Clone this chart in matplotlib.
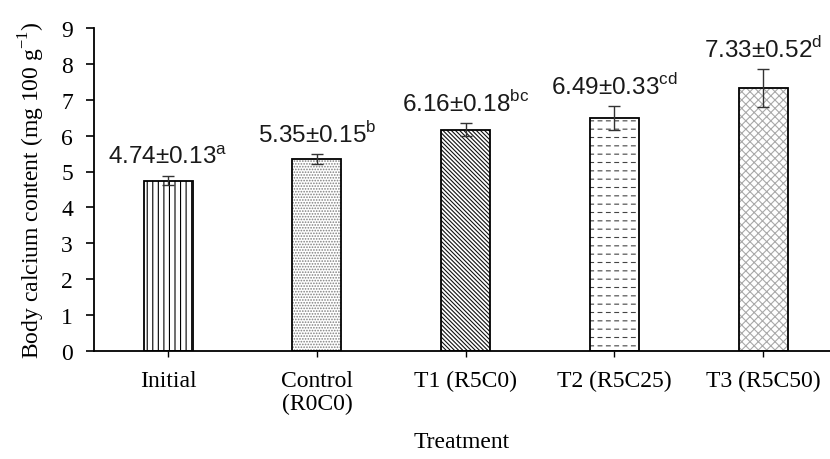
import numpy as np
import matplotlib.pyplot as plt

plt.rcParams['font.family'] = ['Liberation Serif', 'DejaVu Serif']
plt.rcParams['mathtext.fontset'] = 'custom'
plt.rcParams['mathtext.rm'] = 'Liberation Serif'
plt.rcParams['mathtext.sf'] = 'Liberation Sans'
plt.rcParams['hatch.linewidth'] = 0.8

# data
categories = ['Initial', 'Control\n(R0C0)', 'T1 (R5C0)', 'T2 (R5C25)', 'T3 (R5C50)']
means = [4.74, 5.35, 6.16, 6.49, 7.33]
errs = [0.13, 0.15, 0.18, 0.33, 0.52]
letters = ['a', 'b', 'bc', 'cd', 'd']
hatches = ['|||', '......', '\\\\\\\\\\\\\\\\', '--', 'xxxx']
hatch_colors = ['black', '#808080', '#111111', '#444444', '#aaaaaa']

fig = plt.figure(figsize=(8.3, 4.6), dpi=100)
ax = fig.add_axes([0.113, 0.235, 0.887, 0.702])

x = np.arange(len(categories))
for i in range(len(categories)):
    ax.bar(x[i], means[i], width=0.33, color='white', edgecolor=hatch_colors[i],
           hatch=hatches[i], linewidth=0, zorder=2)
# break the T2 lines into dashes with white vertical strokes
cut = ax.bar(x[3], means[3], width=0.33, color='none', edgecolor='white',
             hatch='||', linewidth=0, zorder=2.5)
for p in cut:
    try:
        p.set_hatch_linewidth(2.5)
    except AttributeError:
        pass
ax.bar(x, means, width=0.33, color='none', edgecolor='black',
       linewidth=1.3, zorder=3)
ax.errorbar(x, means, yerr=errs, fmt='none', ecolor='#333333', elinewidth=1,
            capsize=4, capthick=1, zorder=4)

for i in range(len(categories)):
    ax.text(x[i], means[i] + errs[i] + 0.56,
            '%.2f±%.2f$^{\\mathsf{%s}}$' % (means[i], errs[i], letters[i]),
            ha='center', va='center', fontsize=17.5, family='Liberation Sans',
            color='#1a1a1a')

ax.set_ylim(0, 9)
ax.set_xlim(-0.5, 4.45)
ax.set_yticks(range(0, 10))
ax.set_xticks(x)
ax.set_xticklabels(categories, fontsize=17, linespacing=1.1)
ax.tick_params(axis='y', labelsize=17, length=6, width=1.2, direction='out', pad=9)
ax.tick_params(axis='x', length=4, width=1, direction='out', pad=10)
for s in ['top', 'right']:
    ax.spines[s].set_visible(False)
ax.spines['left'].set_linewidth(1.3)
ax.spines['bottom'].set_linewidth(1.3)
ax.set_ylabel('Body calcium content (mg 100 g$^{-1}$)', fontsize=17, labelpad=10)
ax.set_xlabel('Treatment', fontsize=17, labelpad=12)

plt.savefig('out.png', dpi=100)
